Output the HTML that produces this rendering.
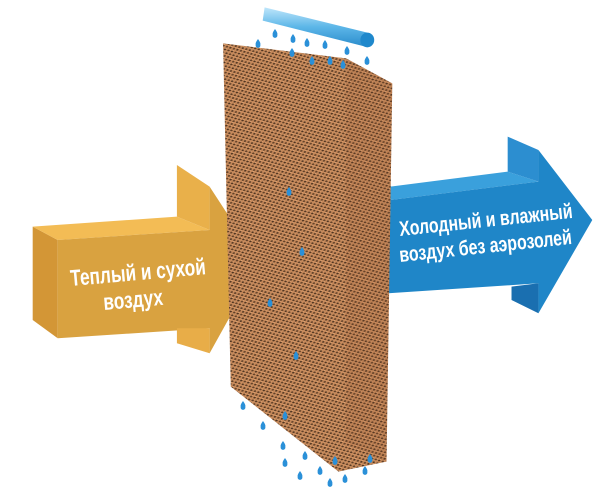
<!DOCTYPE html>
<html><head><meta charset="utf-8"><style>
html,body{margin:0;padding:0;background:#fff;}
svg{display:block;}
text{font-family:"Liberation Sans",sans-serif;font-weight:bold;fill:#fff;}
</style></head><body>
<svg width="600" height="489" viewBox="0 0 600 489" xmlns="http://www.w3.org/2000/svg">
<defs>
<pattern id="hc" width="15" height="12" patternUnits="userSpaceOnUse" patternTransform="rotate(-20)">
<rect width="15" height="12" fill="#c6895a"/>
<ellipse cx="4" cy="3.5" rx="3.4" ry="2.4" fill="#4e3420"/>
<ellipse cx="11.5" cy="9.5" rx="3.4" ry="2.4" fill="#5e3e26"/>
<ellipse cx="8" cy="1" rx="2.2" ry="1.2" fill="#e8b080"/>
<ellipse cx="1" cy="8" rx="2" ry="1.2" fill="#e0a474"/>
</pattern>
<linearGradient id="pipe" x1="0" y1="0" x2="0" y2="1">
<stop offset="0" stop-color="#bfe6fb"/><stop offset="0.5" stop-color="#5cb6e8"/><stop offset="1" stop-color="#2a8ccc"/>
</linearGradient>
<g id="drop"><path d="M0,-4 Q3,0 2.3,1.8 A2.4,2.4 0 1 1 -2.3,1.8 Q-3,0 0,-4Z" fill="#2a90d8"/></g>
</defs>
<g transform="scale(0.3846,0.3333)">
<polygon points="85,680 150,720 150,1015 85,960" fill="#d39636"/>
<polygon points="85,680 460,650 545,690 150,720" fill="#f3bc55"/>
<polygon points="460,495 545,560 545,690 460,650" fill="#e9b04a"/>
<polygon points="150,720 545,690 545,560 675,790 545,1060 545,985 150,1015" fill="#d9a240"/>
<polygon points="460,985 545,985 545,1060 460,1030" fill="#e8ad48"/>
<polygon points="1015,560 1320,515 1400,545 1015,600" fill="#3aa0dc"/>
<polygon points="1320,410 1400,450 1400,545 1320,515" fill="#2c8ed0"/>
<polygon points="1015,600 1400,545 1400,450 1540,660 1400,940 1400,850 1010,880" fill="#1f86c8"/>
<polygon points="1330,860 1400,850 1400,940 1330,900" fill="#1a6fb0"/>
<polygon points="580,130 900,175 1020,250 1005,1385 880,1415 600,1160" fill="url(#hc)"/>
<polygon points="900,175 1020,250 1005,1385 900,1330" fill="#8a5030" opacity="0.15"/>
<polygon points="688,22 955,98 950,140 683,62" fill="url(#pipe)"/>
<ellipse cx="955" cy="120" rx="18" ry="22" fill="#1f88cc"/>
</g>
<g>
<use href="#drop" x="275" y="33"/><use href="#drop" x="293" y="38"/><use href="#drop" x="307" y="42"/><use href="#drop" x="325" y="44"/><use href="#drop" x="347" y="50"/>
<use href="#drop" x="258" y="43"/><use href="#drop" x="292" y="52"/><use href="#drop" x="312" y="60"/><use href="#drop" x="330" y="60"/><use href="#drop" x="367" y="60"/><use href="#drop" x="343" y="64"/>
<use href="#drop" x="289" y="191"/><use href="#drop" x="302" y="251"/><use href="#drop" x="270" y="302"/><use href="#drop" x="296" y="355"/>
<use href="#drop" x="243" y="405"/><use href="#drop" x="263" y="425"/><use href="#drop" x="283" y="445"/><use href="#drop" x="285" y="415"/><use href="#drop" x="305" y="455"/>
<use href="#drop" x="285" y="462"/><use href="#drop" x="300" y="475"/><use href="#drop" x="320" y="470"/><use href="#drop" x="345" y="478"/><use href="#drop" x="365" y="470"/><use href="#drop" x="370" y="458"/><use href="#drop" x="335" y="460"/><use href="#drop" x="330" y="482"/>
</g>
<g transform="translate(71,286) rotate(-5)"><text font-size="23" transform="scale(0.75,1)">Теплый и сухой</text></g>
<g transform="translate(104,310) rotate(-5)"><text font-size="23" transform="scale(0.75,1)">воздух</text></g>
<g transform="translate(400,236) rotate(-6)"><text font-size="21" transform="scale(0.76,1)">Холодный и влажный</text></g>
<g transform="translate(400,262) rotate(-6)"><text font-size="21" transform="scale(0.76,1)">воздух без аэрозолей</text></g>
</svg>
</body></html>
